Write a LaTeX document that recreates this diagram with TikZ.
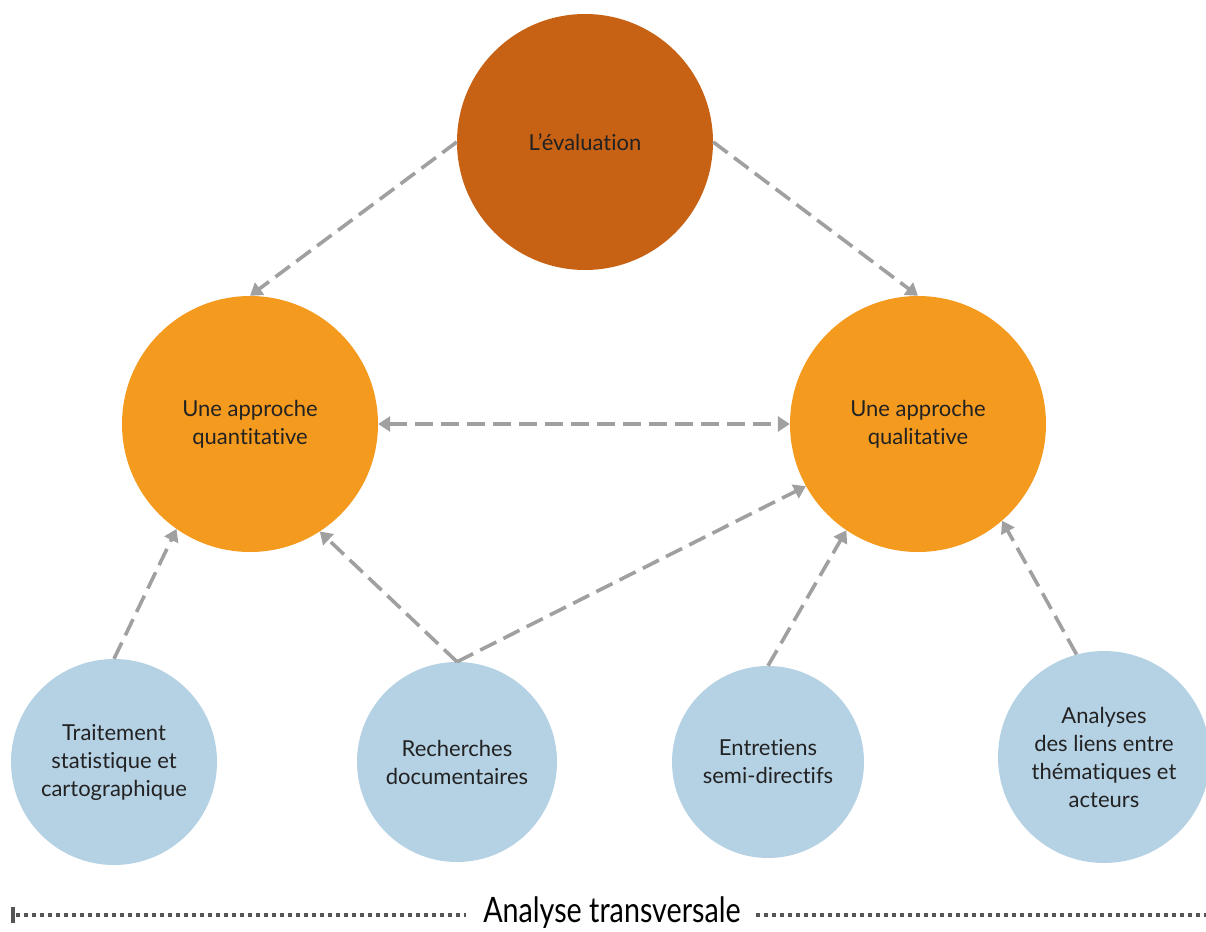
\documentclass[tikz,border=0pt]{standalone}
\usepackage{fontspec}
\setmainfont{Lato}[Ligatures=NoCommon]
\usetikzlibrary{arrows.meta}
\definecolor{evalc}{HTML}{C76114}
\definecolor{appc}{HTML}{F49A1E}
\definecolor{toolc}{HTML}{B5D1E4}
\definecolor{linkc}{HTML}{A0A0A0}
\definecolor{txtc}{HTML}{222222}
\definecolor{dotc}{HTML}{555555}
\begin{document}
\begin{tikzpicture}[x=1pt,y=-1pt,
  bubble/.style={circle,inner sep=0pt,text=txtc,align=center,font=\fontsize{22}{28}\selectfont},
  evalnode/.style={bubble,fill=evalc,minimum size=256pt},
  appnode/.style={bubble,fill=appc,minimum size=256pt},
  toolnode/.style={bubble,fill=toolc},
  link/.style={draw=linkc,line width=3.6pt,dash pattern=on 18pt off 8pt,-{Triangle[length=12pt,width=15pt]}},
  dualink/.style={link,{Triangle[length=12pt,width=15pt]}-{Triangle[length=12pt,width=15pt]}},
  dotline/.style={draw=dotc,line width=3.5pt,dash pattern=on 4pt off 4pt}]
\useasboundingbox (0,0) rectangle (1206,931);
\node[evalnode] (eval) at (585,142) {L’évaluation};
\node[appnode] (quant) at (250,424) {Une approche\\quantitative};
\node[appnode] (qual) at (918,424) {Une approche\\qualitative};
\node[toolnode,minimum size=206pt] (trait) at (114,762) {Traitement\\statistique et\\cartographique};
\node[toolnode,minimum size=200pt] (rech) at (457,762) {Recherches\\documentaires};
\node[toolnode,minimum size=192pt] (entr) at (768,762) {Entretiens\\semi-directifs};
\node[toolnode,minimum size=212pt] (anal) at (1104,757) {Analyses\\des liens entre\\thématiques et\\acteurs};
\draw[link] (eval.west) -- (quant.north);
\draw[link] (eval.east) -- (qual.north);
\draw[dualink] (quant.east) -- (qual.west);
\draw[link] (trait.north) -- (quant.235);
\draw[link] (rech.north) -- (quant.303);
\draw[link] (rech.north) -- (qual.209);
\draw[link] (entr.north) -- (qual.236);
\draw[link] (anal.105) -- (qual.311);
\node[font=\fontsize{35}{40}\selectfont,text=black,inner sep=0pt,anchor=base] (trans) at (612,922.5) {\scalebox{0.82}[1]{Analyse transversale}};
\coordinate (lstart) at (16,915);
\coordinate (lend) at (466,915);
\coordinate (rstart) at (756,915);
\coordinate (rend) at (1206,915);
\draw[dotline] (lstart) -- (lend);
\draw[dotline] (rstart) -- (rend);
\draw[dotc,line width=4pt] (13,907) -- (13,923);
\end{tikzpicture}
\end{document}
